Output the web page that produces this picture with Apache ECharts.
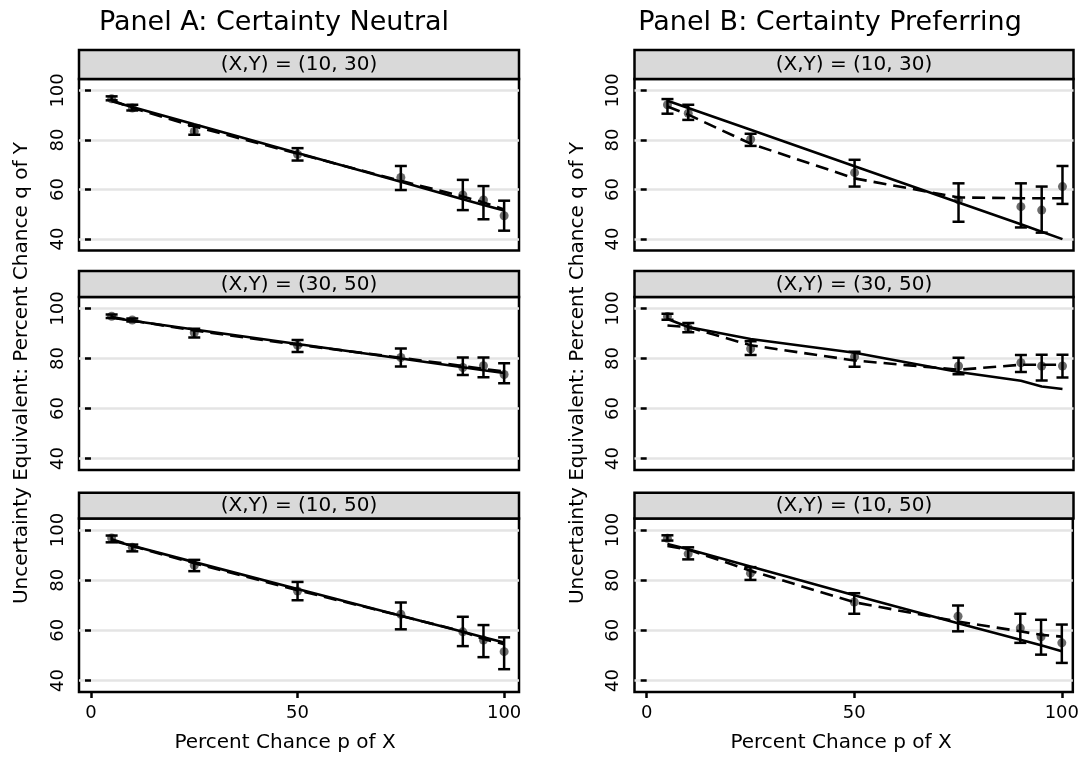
<!DOCTYPE html>
<html>
<head>
<meta charset="utf-8">
<script src="https://cdn.jsdelivr.net/npm/echarts@6/dist/echarts.min.js"></script>
<style>
  html, body { margin: 0; padding: 0; background: #ffffff; }
  #chart { width: 1082px; height: 759px; }
</style>
</head>
<body>
<div id="chart"></div>
<script>
// Percent chance p of X used in every elicitation
const pChance = [5, 10, 25, 50, 75, 90, 95, 100];
const xTicks = [0, 50, 100];
const yTicks = [40, 60, 80, 100];

const panelTitles = ['Panel A: Certainty Neutral', 'Panel B: Certainty Preferring'];
const facetLabels = ['(X,Y) = (10, 30)', '(X,Y) = (30, 50)', '(X,Y) = (10, 50)'];
const xTitle = 'Percent Chance p of X';
const yTitle = 'Uncertainty Equivalent: Percent Chance q of Y';

// Panel A, (X,Y) = (10, 30)
const a1Mean   = [96.6, 92.9, 83.4, 74.2, 64.9, 57.8, 55.8, 49.4];
const a1Lo     = [96.0, 91.9, 82.1, 71.7, 59.8, 51.7, 48.0, 43.4];
const a1Hi     = [97.6, 94.2, 85.7, 76.7, 69.5, 63.9, 61.4, 55.5];
const a1Solid  = [95.6, 93.3, 86.3, 74.7, 63.1, 56.1, 53.8, 51.5];
const a1Dashed = [96.0, 93.0, 85.5, 74.5, 63.5, 57.2, 54.8, 52.0];

// Panel A, (X,Y) = (30, 50)
const a2Mean   = [96.9, 95.4, 90.3, 85.3, 80.4, 76.4, 77.1, 73.6];
const a2Lo     = [96.2, 94.8, 88.4, 82.6, 76.8, 73.4, 72.5, 70.1];
const a2Hi     = [97.6, 96.0, 91.9, 87.4, 84.0, 80.4, 80.4, 78.1];
const a2Solid  = [96.3, 95.1, 91.6, 85.8, 80.0, 76.5, 75.3, 74.2];
const a2Dashed = [96.6, 95.2, 91.2, 85.5, 80.3, 77.0, 75.8, 74.8];

// Panel A, (X,Y) = (10, 50)
const a3Mean   = [96.8, 93.1, 85.9, 75.7, 66.4, 59.4, 56.1, 51.5];
const a3Lo     = [95.1, 91.5, 83.6, 72.0, 60.4, 53.7, 49.3, 44.5];
const a3Hi     = [97.8, 94.2, 88.1, 79.3, 71.1, 65.4, 62.1, 57.2];
const a3Solid  = [95.8, 93.7, 87.2, 76.5, 65.8, 59.4, 57.2, 55.1];
const a3Dashed = [96.3, 93.6, 86.8, 76.0, 65.8, 59.5, 56.5, 54.5];

// Panel B, (X,Y) = (10, 30)
const b1Mean   = [94.2, 90.8, 80.3, 66.8, 55.8, 53.1, 51.7, 61.2];
const b1Lo     = [90.6, 88.1, 77.6, 61.2, 47.0, 44.7, 42.6, 54.2];
const b1Hi     = [96.5, 94.2, 82.5, 72.0, 62.5, 62.5, 61.2, 69.5];
const b1Solid  = [95.8, 92.9, 84.1, 69.4, 54.8, 46.0, 43.0, 40.0];
const b1Dashed = [93.5, 90.2, 78.5, 64.5, 56.8, 56.5, 56.5, 56.5];

// Panel B, (X,Y) = (30, 50)
const b2Mean   = [96.8, 92.2, 83.9, 80.7, 77.0, 78.3, 77.0, 77.0];
const b2Lo     = [95.5, 90.5, 81.4, 76.7, 73.7, 74.6, 71.2, 72.4];
const b2Hi     = [97.9, 94.2, 86.9, 82.7, 80.3, 81.4, 81.5, 81.5];
const b2Solid  = [95.8, 92.6, 87.8, 82.3, 74.6, 71.1, 68.8, 67.8];
const b2Dashed = [93.2, 92.6, 85.3, 79.2, 75.5, 77.5, 77.5, 77.5];

// Panel B, (X,Y) = (10, 50)
const b3Mean   = [96.7, 90.5, 82.8, 71.3, 65.6, 60.9, 57.4, 55.0];
const b3Lo     = [95.8, 88.3, 80.1, 66.6, 59.6, 55.0, 50.3, 47.0];
const b3Hi     = [97.9, 93.1, 85.2, 74.8, 69.9, 66.6, 64.2, 62.3];
const b3Solid  = [94.4, 92.3, 85.5, 74.0, 62.8, 56.2, 54.0, 51.7];
const b3Dashed = [93.6, 92.2, 83.8, 71.2, 63.5, 59.6, 58.2, 57.5];

const panelData = [
  [
    { mean: a1Mean, lo: a1Lo, hi: a1Hi, solid: a1Solid, dashed: a1Dashed },
    { mean: a2Mean, lo: a2Lo, hi: a2Hi, solid: a2Solid, dashed: a2Dashed },
    { mean: a3Mean, lo: a3Lo, hi: a3Hi, solid: a3Solid, dashed: a3Dashed }
  ],
  [
    { mean: b1Mean, lo: b1Lo, hi: b1Hi, solid: b1Solid, dashed: b1Dashed },
    { mean: b2Mean, lo: b2Lo, hi: b2Hi, solid: b2Solid, dashed: b2Dashed },
    { mean: b3Mean, lo: b3Lo, hi: b3Hi, solid: b3Solid, dashed: b3Dashed }
  ]
];

// ---- layout ----
const FONT = 'DejaVu Sans';
const panels = [
  { left: 79,    width: 440, xMin: -2.9,  xMax: 103.6, titleX: 274, xTitleX: 285, yTitleX: 22 },
  { left: 634.5, width: 439, xMin: -2.93, xMax: 102.65, titleX: 830, xTitleX: 841, yTitleX: 578 }
];
const facets = [
  { stripTop: 50,    top: 79,    height: 171.5 },
  { stripTop: 271,   top: 297,   height: 173 },
  { stripTop: 492.7, top: 518.5, height: 173.5 }
];
const Y_MIN = 35.4, Y_MAX = 104.6;

const grids = [], xAxes = [], yAxes = [], series = [], graphics = [];

// vertical bar with caps from lo to hi at each p
function errorBarItem(params, api) {
  const x = api.value(0);
  const lo = api.coord([x, api.value(1)]);
  const hi = api.coord([x, api.value(2)]);
  const w = 6;
  const st = { stroke: '#000', lineWidth: 2.5 };
  return {
    type: 'group',
    children: [
      { type: 'line', shape: { x1: lo[0], y1: lo[1], x2: hi[0], y2: hi[1] }, style: st },
      { type: 'line', shape: { x1: lo[0] - w, y1: lo[1], x2: lo[0] + w, y2: lo[1] }, style: st },
      { type: 'line', shape: { x1: hi[0] - w, y1: hi[1], x2: hi[0] + w, y2: hi[1] }, style: st }
    ]
  };
}

panels.forEach((pan, pi) => {
  facets.forEach((fac, fi) => {
    const gi = grids.length;
    const isBottom = fi === facets.length - 1;
    const d = panelData[pi][fi];

    grids.push({
      left: pan.left, top: fac.top, width: pan.width, height: fac.height,
      show: true, borderColor: '#000', borderWidth: 2.5, backgroundColor: 'transparent'
    });

    xAxes.push({
      type: 'value', gridIndex: gi, min: pan.xMin, max: pan.xMax,
      axisLine: { show: false },
      splitLine: { show: false },
      axisTick: { show: isBottom, customValues: xTicks, length: 6, inside: false,
                  lineStyle: { color: '#000', width: 2.5 } },
      axisLabel: { show: isBottom, customValues: xTicks, fontSize: 18, color: '#000',
                   fontFamily: FONT, margin: 12 }
    });

    yAxes.push({
      type: 'value', gridIndex: gi, min: Y_MIN, max: Y_MAX,
      axisLine: { show: false },
      axisTick: { show: true, customValues: yTicks, length: 6, inside: false,
                  lineStyle: { color: '#000', width: 2.5 } },
      axisLabel: { show: true, customValues: yTicks, rotate: 90, fontSize: 18, color: '#000',
                   fontFamily: FONT, margin: 12 },
      splitLine: { show: true, lineStyle: { color: '#e4e4e4', width: 2.5 } }
    });

    series.push({
      type: 'scatter', xAxisIndex: gi, yAxisIndex: gi, z: 2,
      symbol: 'circle', symbolSize: 9,
      itemStyle: { color: '#474747' },
      data: pChance.map((p, i) => [p, d.mean[i]]),
      silent: true
    });
    series.push({
      type: 'custom', xAxisIndex: gi, yAxisIndex: gi, z: 3,
      renderItem: errorBarItem,
      encode: { x: 0, y: [1, 2] },
      data: pChance.map((p, i) => [p, d.lo[i], d.hi[i]]),
      silent: true
    });
    series.push({
      type: 'line', xAxisIndex: gi, yAxisIndex: gi, z: 4,
      symbol: 'none',
      lineStyle: { color: '#000', width: 2.6, type: [13, 7] },
      data: pChance.map((p, i) => [p, d.dashed[i]]),
      silent: true
    });
    series.push({
      type: 'line', xAxisIndex: gi, yAxisIndex: gi, z: 5,
      symbol: 'none',
      lineStyle: { color: '#000', width: 2.6 },
      data: pChance.map((p, i) => [p, d.solid[i]]),
      silent: true
    });

    // facet strip
    const stripH = fac.top - fac.stripTop;
    graphics.push({
      type: 'rect', z: 10,
      shape: { x: pan.left, y: fac.stripTop, width: pan.width, height: stripH },
      style: { fill: '#d9d9d9', stroke: '#000', lineWidth: 2.5 }
    });
    graphics.push({
      type: 'text', z: 11,
      x: pan.left + pan.width / 2, y: fac.stripTop + stripH / 2 + 0.5,
      style: { text: facetLabels[fi], fontSize: 20, fontFamily: FONT, fill: '#000',
               align: 'center', verticalAlign: 'middle' }
    });
  });

  // panel title
  graphics.push({
    type: 'text', x: pan.titleX, y: 23,
    style: { text: panelTitles[pi], fontSize: 27, fontFamily: FONT, fill: '#000',
             align: 'center', verticalAlign: 'middle' }
  });
  // x axis title
  graphics.push({
    type: 'text', x: pan.xTitleX, y: 743,
    style: { text: xTitle, fontSize: 20, fontFamily: FONT, fill: '#000',
             align: 'center', verticalAlign: 'middle' }
  });
  // y axis title
  graphics.push({
    type: 'text', x: pan.yTitleX, y: 373, rotation: Math.PI / 2,
    style: { text: yTitle, fontSize: 20, fontFamily: FONT, fill: '#000',
             align: 'center', verticalAlign: 'middle' }
  });
});

const chart = echarts.init(document.getElementById('chart'), null, { renderer: 'canvas' });
chart.setOption({
  animation: false,
  backgroundColor: '#ffffff',
  textStyle: { fontFamily: FONT },
  grid: grids,
  xAxis: xAxes,
  yAxis: yAxes,
  series: series,
  graphic: graphics
});
</script>
</body>
</html>
